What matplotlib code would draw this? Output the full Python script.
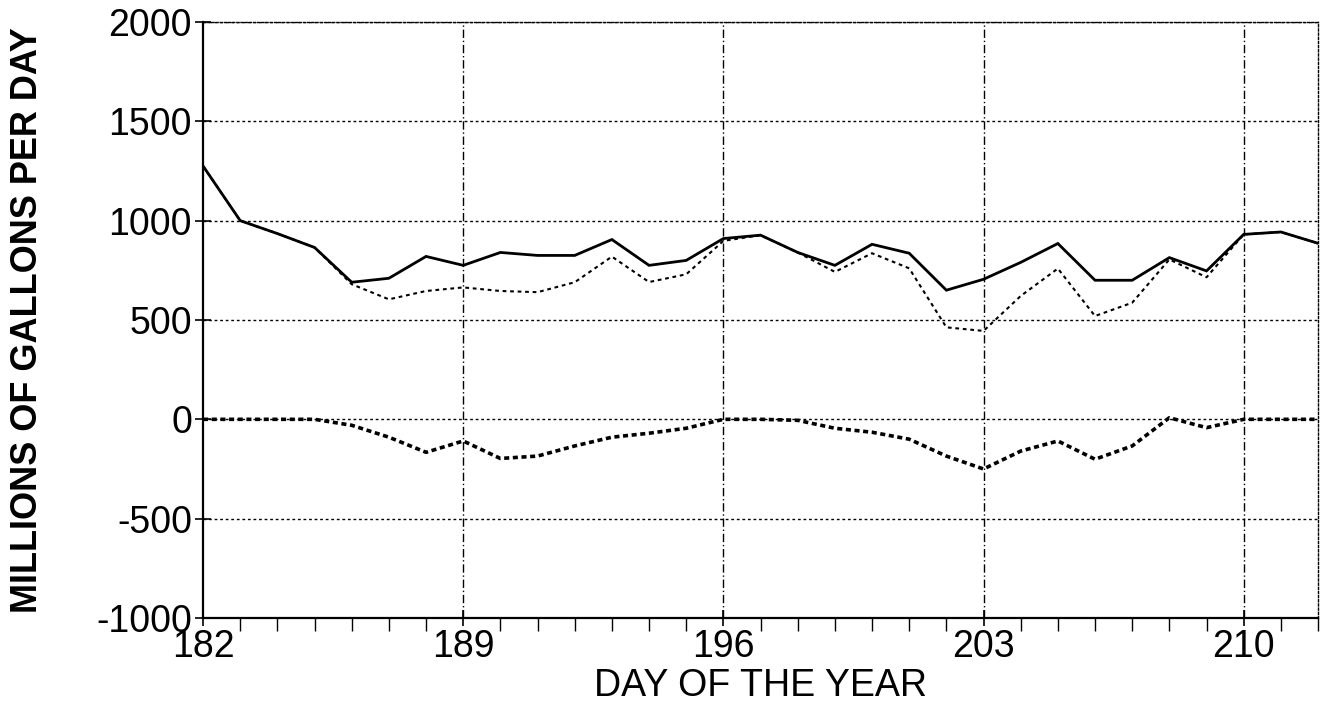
import matplotlib
matplotlib.use("Agg")
import matplotlib.pyplot as plt
from matplotlib.ticker import MultipleLocator

plt.rcParams["font.family"] = ["Liberation Sans", "DejaVu Sans"]
plt.rcParams["axes.unicode_minus"] = False

days = list(range(182, 213))

total_flow = [
    1275, 1000, 935, 865, 690, 710, 820, 775, 840, 825, 825,
    905, 775, 800, 910, 927, 840, 775, 881, 836, 650, 705,
    790, 885, 700, 700, 814, 747, 931, 943, 886,
]

adjusted_flow = [
    1275, 1000, 935, 865, 680, 604, 646, 664, 646, 640, 690,
    819, 691, 730, 898, 927, 840, 742, 836, 760, 463, 445,
    621, 759, 520, 587, 805, 715, 931, 943, 886,
]

difference = [
    0, 0, 0, 0, -30, -90, -166, -109, -197, -185, -134,
    -90, -70, -45, 0, 0, -5, -45, -65, -100, -185, -250,
    -160, -109, -201, -134, 8, -42, 0, 0, 0,
]

y_ticks = [-1000, -500, 0, 500, 1000, 1500, 2000]
x_ticks = [182, 189, 196, 203, 210]

fig = plt.figure(figsize=(13.22, 7.19), dpi=100)
ax = fig.add_axes([0.1536, 0.1405, 0.8434, 0.8289])

ax.plot(days, total_flow, color="black", lw=2.0, solid_joinstyle="miter")
ax.plot(days, adjusted_flow, color="black", lw=1.5, linestyle=(0, (1.8, 1.8)))
ax.plot(days, difference, color="black", lw=2.6, linestyle=(0, (1.4, 1.0)))

ax.set_xlim(182, 212)
ax.set_ylim(-1000, 2000)
ax.set_xticks(x_ticks)
ax.set_yticks(y_ticks)
ax.xaxis.set_minor_locator(MultipleLocator(1))

# grid: dotted horizontals, dash-dot verticals
for yv in y_ticks[1:]:
    ax.axhline(yv, color="black", lw=1.0, linestyle=(0, (2.0, 2.0)), zorder=0)
for xv in x_ticks[1:]:
    ax.axvline(xv, color="black", lw=1.0, linestyle=(0, (6, 2, 1, 2)), zorder=0)

for side in ["top", "right"]:
    ax.spines[side].set_linestyle((0, (1.5, 1.5)))
    ax.spines[side].set_linewidth(1.0)
for side in ["left", "bottom"]:
    ax.spines[side].set_linewidth(1.6)

ax.tick_params(axis="both", which="major", direction="inout", length=12, width=1.2,
               labelsize=27, pad=2)
ax.tick_params(axis="x", which="minor", direction="out", length=9, width=1.0)

ax.set_xlabel("DAY OF THE YEAR", fontsize=27, labelpad=2)
ax.set_ylabel("MILLIONS OF GALLONS PER DAY", fontsize=26, fontweight="bold")
ax.yaxis.set_label_coords(-0.142, 0.5)

fig.savefig("out.png", dpi=100)
